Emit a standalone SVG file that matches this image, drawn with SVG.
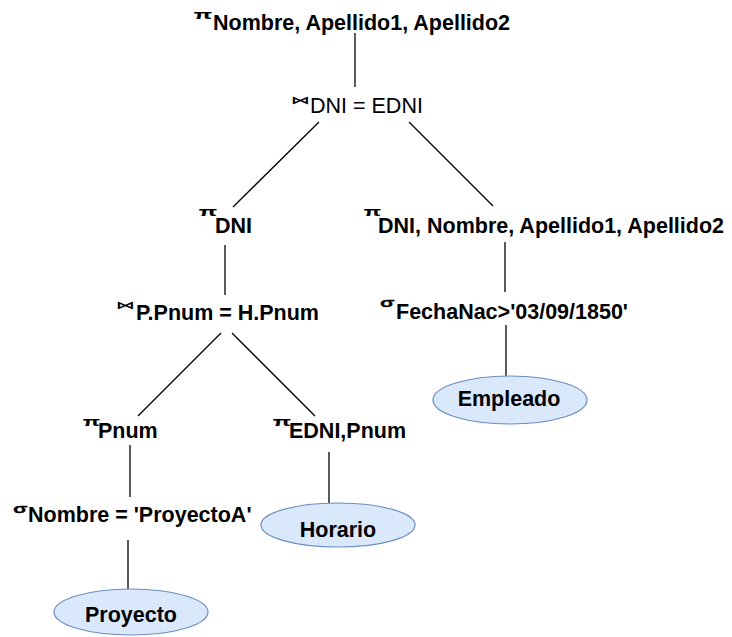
<svg xmlns="http://www.w3.org/2000/svg" width="732" height="637" viewBox="0 0 732 637">
  <style>
    .lbl { font-family: "Liberation Sans", Arial, sans-serif; font-size: 21.5px; font-weight: bold; fill: #000; }
    .reg { font-weight: normal; }
    .op { font-family: "Liberation Sans", Arial, sans-serif; font-size: 13px; font-weight: bold; fill: #000; stroke: #000; stroke-width: 0.25; }
    .join { font-family: "DejaVu Sans", sans-serif; font-size: 11px; font-weight: bold; fill: #000; }
    .rel { fill: #dae8fc; stroke: #6c8ebf; stroke-width: 1.2; }
    .mid { text-anchor: middle; }
    .edge { stroke: #000; stroke-width: 1.3; fill: none; }
  </style>
  <rect width="732" height="637" fill="#fff"/>

  <g id="connectors">
    <line class="edge" x1="355" y1="33" x2="355" y2="87"/>
    <line class="edge" x1="319" y1="122" x2="233" y2="207"/>
    <line class="edge" x1="409" y1="122" x2="493" y2="206"/>
    <line class="edge" x1="225" y1="245" x2="225" y2="295"/>
    <line class="edge" x1="505" y1="242" x2="505" y2="292"/>
    <line class="edge" x1="221" y1="333" x2="138" y2="416"/>
    <line class="edge" x1="232" y1="333" x2="315" y2="416"/>
    <line class="edge" x1="506" y1="325" x2="506" y2="376"/>
    <line class="edge" x1="130" y1="445" x2="130" y2="497"/>
    <line class="edge" x1="329" y1="452" x2="329" y2="503"/>
    <line class="edge" x1="128" y1="540" x2="128" y2="590"/>
  </g>

  <g id="proj-final">
    <text class="op" transform="translate(194 19) scale(1.8 1)">π</text>
    <text class="lbl" x="213" y="29.5">Nombre, Apellido1, Apellido2</text>
  </g>

  <g id="join-dni">
    <text class="join" transform="translate(291 104) scale(1.7 1)">⋈</text>
    <text class="lbl reg" x="310" y="113">DNI = EDNI</text>
  </g>

  <g id="proj-dni">
    <text class="op" transform="translate(199 216) scale(1.8 1)">π</text>
    <text class="lbl" x="215" y="233">DNI</text>
  </g>

  <g id="proj-empleado">
    <text class="op" transform="translate(364 216) scale(1.7 1)">π</text>
    <text class="lbl" x="378" y="233">DNI, Nombre, Apellido1, Apellido2</text>
  </g>

  <g id="join-pnum">
    <text class="join" transform="translate(116 309) scale(1.7 1)">⋈</text>
    <text class="lbl" x="136" y="320">P.Pnum = H.Pnum</text>
  </g>

  <g id="sel-fecha">
    <text class="op" transform="translate(380 307) scale(1.65 1)">σ</text>
    <text class="lbl" x="396" y="319">FechaNac&gt;'03/09/1850'</text>
  </g>

  <g id="empleado">
    <ellipse class="rel" cx="510" cy="400" rx="77" ry="24"/>
    <text class="lbl mid" x="509" y="406">Empleado</text>
  </g>

  <g id="proj-pnum">
    <text class="op" transform="translate(83 426) scale(1.7 1)">π</text>
    <text class="lbl" x="98" y="438">Pnum</text>
  </g>

  <g id="proj-horario">
    <text class="op" transform="translate(273 426) scale(1.8 1)">π</text>
    <text class="lbl" x="289" y="438">EDNI,Pnum</text>
  </g>

  <g id="sel-nombre">
    <text class="op" transform="translate(13 513) scale(1.65 1)">σ</text>
    <text class="lbl" x="28" y="522">Nombre = 'ProyectoA'</text>
  </g>

  <g id="horario">
    <ellipse class="rel" cx="338" cy="525" rx="77" ry="22"/>
    <text class="lbl mid" x="338" y="537">Horario</text>
  </g>

  <g id="proyecto">
    <ellipse class="rel" cx="131" cy="612" rx="77" ry="23"/>
    <text class="lbl mid" x="131" y="622">Proyecto</text>
  </g>
</svg>
